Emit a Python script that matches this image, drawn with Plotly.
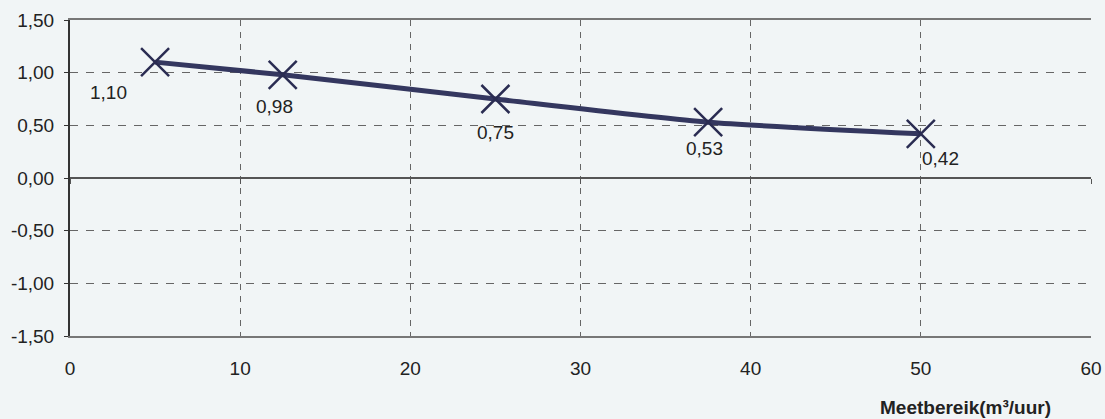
import plotly.graph_objects as go

x_vals = [5, 12.5, 25, 37.5, 50]
y_vals = [1.10, 0.98, 0.75, 0.53, 0.42]
y_ticks = [-1.5, -1.0, -0.5, 0.0, 0.5, 1.0, 1.5]
y_tick_text = ["-1,50", "-1,00", "-0,50", "0,00", "0,50", "1,00", "1,50"]
x_ticks = [0, 10, 20, 30, 40, 50, 60]
x_title = "Meetbereik(m³/uur)"

label_shift = [(-47, -30), (-8, -32), (0, -33), (-4, -26), (20, -25)]

font = "Liberation Sans, Arial, sans-serif"
bg = "#f1f5f6"
line_col = "#34375f"

fig = go.Figure()
fig.add_trace(go.Scatter(
    x=x_vals, y=y_vals, mode="lines+markers",
    line=dict(color=line_col, width=5, shape="spline", smoothing=0.6),
    marker=dict(symbol="x-thin", size=28, line=dict(color="#2a2c52", width=2.5), color="#2a2c52"),
    showlegend=False, hoverinfo="skip",
))

for (xv, yv), (dx, dy) in zip(zip(x_vals, y_vals), label_shift):
    fig.add_annotation(x=xv, y=yv, text=f"{yv:.2f}".replace(".", ","), showarrow=False,
                       xshift=dx, yshift=dy, font=dict(family=font, size=19, color="#222"))

fig.add_annotation(xref="paper", yref="paper", x=(1053 - 70) / 1021, y=-(407 - 336) / 316,
                   xanchor="right", yanchor="middle", showarrow=False, text=f"<b>{x_title}</b>",
                   font=dict(family=font, size=19, color="#222"))

fig.update_layout(
    width=1105, height=419,
    margin=dict(l=70, r=14, t=20, b=83, autoexpand=False),
    paper_bgcolor=bg, plot_bgcolor=bg,
    xaxis=dict(range=[0, 60], tickvals=x_ticks, showgrid=True, gridcolor="#666", griddash="6px,6px",
               gridwidth=1, zeroline=False, showline=True, linecolor="#777", linewidth=1.5, mirror=True,
               ticks="", ticklabelstandoff=14, automargin=False,
               tickfont=dict(family=font, size=19, color="#222")),
    xaxis2=dict(range=[0, 60], overlaying="x", anchor="free", position=0.5, tickvals=x_ticks,
                showgrid=False, zeroline=False, showline=True, linecolor="#555", linewidth=1.5,
                ticks="outside", ticklen=5, tickcolor="#555", showticklabels=False, automargin=False),
    yaxis=dict(range=[-1.5, 1.5], tickvals=y_ticks, ticktext=y_tick_text, showgrid=True, gridcolor="#666",
               griddash="8px,8px", gridwidth=1, zeroline=False, showline=True, linecolor="#333",
               linewidth=2, ticks="outside", ticklen=4, tickcolor="#333", ticklabelstandoff=6,
               automargin=False, tickfont=dict(family=font, size=19, color="#222")),
)
fig.add_trace(go.Scatter(x=[0, 60], y=[0, 0], xaxis="x2", mode="lines", line=dict(color="#555", width=1.5),
                         showlegend=False, hoverinfo="skip"))
fig.write_html("out.html", config={"displayModeBar": False},
               post_script="document.body.style.margin='0';document.body.style.background='%s';" % bg)
